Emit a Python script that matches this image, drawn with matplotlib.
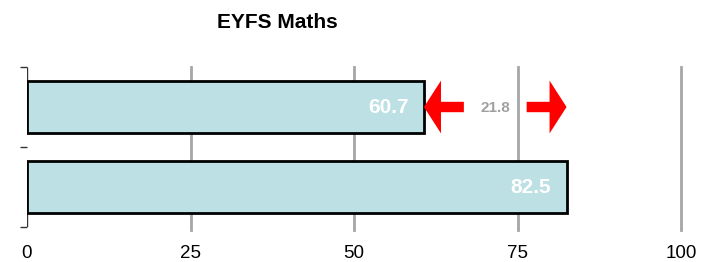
import matplotlib
matplotlib.use("Agg")
import matplotlib.pyplot as plt
from matplotlib.patches import FancyArrow

categories = ["School", "National"]
values = [60.7, 82.5]
xticks = [0, 25, 50, 75, 100]
xticklabels = ["0", "25", "50", "75", "100"]
title = "EYFS Maths"

W, H = 723, 262
fig = plt.figure(figsize=(W / 100, H / 100), dpi=100)
ax = fig.add_axes([27 / W, (H - 227) / H, (681 - 27) / W, 160 / H])

bar_h = 0.66
ypos = list(range(len(categories)))
ax.barh(ypos, values, height=bar_h, color="#BCE0E3", edgecolor="black", linewidth=2, zorder=3)
ax.set_xlim(0, 100)
ax.set_ylim(len(categories) - 0.5, -0.5)

for x in xticks[1:]:
    ax.axvline(x, ymin=-0.02, ymax=1, color="#A6A6A6", linewidth=2, zorder=1, clip_on=False)

# partial left axis line (above first bar and below last bar)
ax.vlines(0, -0.5, ypos[0] - bar_h / 2, color="#333333", linewidth=1, zorder=2)
ax.vlines(0, ypos[-1] + bar_h / 2, len(categories) - 0.5, color="#333333", linewidth=1, zorder=2)

ax.set_xticks(xticks)
ax.set_xticklabels(xticklabels, fontsize=13.5, family="Liberation Sans")
ax.tick_params(axis="x", length=0, pad=13)
ax.set_yticks([-0.5, 0.5, 1.5])
ax.set_yticklabels([])
ax.tick_params(axis="y", direction="out", length=5, width=1, color="#333333")
for s in ["top", "right", "bottom", "left"]:
    ax.spines[s].set_visible(False)

for y, v in zip(ypos, values):
    ax.text(v - 2.4, y + 0.01, f"{v}", ha="right", va="center", color="white",
            fontsize=15, fontweight="bold", family="Liberation Sans", zorder=5)

# difference arrows
diff = round(values[1] - values[0], 1)
a, b = values[0], values[1]
hl = 2.6
shaft = 0.13
hw = 0.66
ax.add_patch(FancyArrow(a + 6.1, 0, -6.1, 0, width=shaft, head_width=hw, head_length=hl,
                        length_includes_head=True, color="#FF0000", linewidth=0, zorder=6))
ax.add_patch(FancyArrow(b - 6.1, 0, 6.1, 0, width=shaft, head_width=hw, head_length=hl,
                        length_includes_head=True, color="#FF0000", linewidth=0, zorder=6))
ax.text((a + b) / 2, 0.01, f"{diff}", ha="center", va="center", color="#A0A0A0",
        fontsize=11, fontweight="bold", family="Liberation Sans", zorder=6)

fig.text(277 / W, (H - 22) / H, title, ha="center", va="center", fontsize=15,
         fontweight="bold", family="Liberation Sans")

fig.savefig("out.png", dpi=100)
